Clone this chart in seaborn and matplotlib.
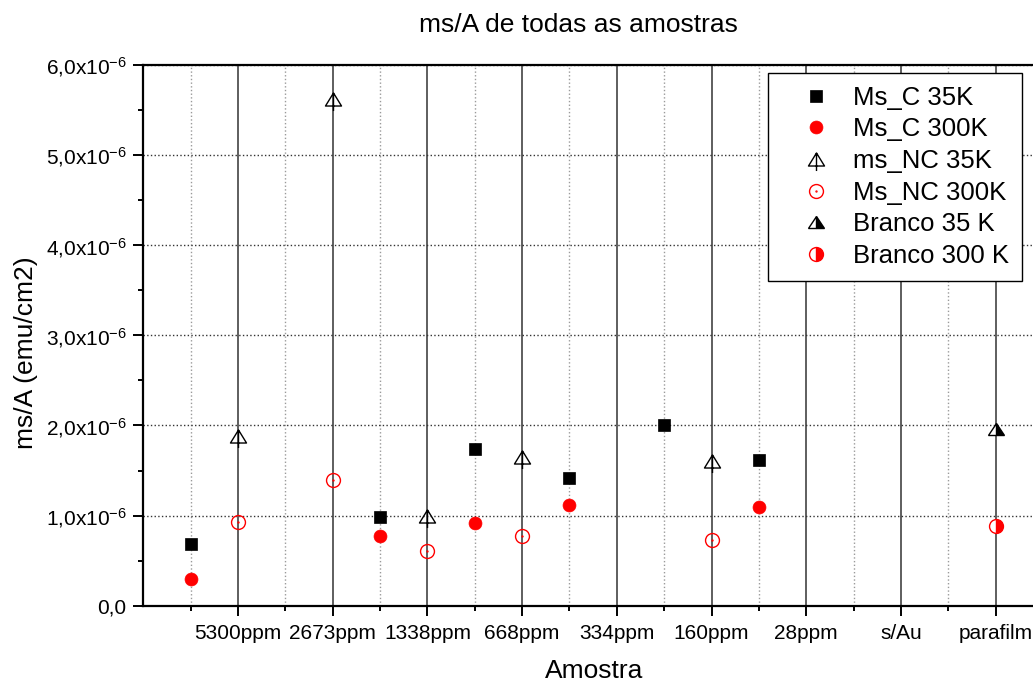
import numpy as np
import pandas as pd
import seaborn as sns
import matplotlib
matplotlib.use("Agg")
import matplotlib.pyplot as plt
from matplotlib.path import Path
from matplotlib.markers import MarkerStyle
from matplotlib.transforms import Affine2D
from matplotlib.ticker import MultipleLocator, FixedLocator

# --- data -------------------------------------------------------------
samples = ["5300ppm", "2673ppm", "1338ppm", "668ppm", "334ppm",
           "160ppm", "28ppm", "s/Au", "parafilm"]

ms_c_35_x = [0.5, 2.5, 3.5, 4.5, 5.5, 6.5]
ms_c_35_y = [0.69e-6, 0.98e-6, 1.74e-6, 1.42e-6, 2.00e-6, 1.62e-6]

ms_c_300_x = [0.5, 2.5, 3.5, 4.5, 6.5]
ms_c_300_y = [0.30e-6, 0.77e-6, 0.92e-6, 1.12e-6, 1.09e-6]

ms_nc_35_x = [1, 2, 3, 4, 6]
ms_nc_35_y = [1.88e-6, 5.62e-6, 1.00e-6, 1.65e-6, 1.61e-6]

ms_nc_300_x = [1, 2, 3, 4, 6]
ms_nc_300_y = [0.93e-6, 1.39e-6, 0.61e-6, 0.77e-6, 0.73e-6]

branco_35_x = [9]
branco_35_y = [1.96e-6]

branco_300_x = [9]
branco_300_y = [0.88e-6]

y_ticks = [0, 1e-6, 2e-6, 3e-6, 4e-6, 5e-6, 6e-6]
y_tick_labels = ["0,0"] + [rf"{v},0x10$^{{\mathregular{{-6}}}}$" for v in range(1, 7)]

# --- style ------------------------------------------------------------
sns.set_style("ticks")
plt.rcParams["font.family"] = ["Liberation Sans", "DejaVu Sans"]
plt.rcParams["mathtext.fontset"] = "custom"
plt.rcParams["mathtext.rm"] = "Liberation Sans"
plt.rcParams["mathtext.it"] = "Liberation Sans:italic"
plt.rcParams["mathtext.bf"] = "Liberation Sans:bold"
for key in ("text.color", "axes.labelcolor", "xtick.color", "ytick.color",
            "axes.edgecolor"):
    plt.rcParams[key] = "black"

W, H = 1033, 684
fig = plt.figure(figsize=(W / 100, H / 100), dpi=100)
px = 94.7  # one category unit in pixels
ax_left, ax_top, ax_bottom = 143.3, 65.0, 605.7
xmax = 9.5
ax = fig.add_axes([ax_left / W, 1 - ax_bottom / H,
                   xmax * px / W, (ax_bottom - ax_top) / H])

# custom markers
tri_stem = Path([(0, 6.5), (-8, -6.5), (8, -6.5), (0, 6.5), (0, 6.5), (0, -11.5)],
                [Path.MOVETO, Path.LINETO, Path.LINETO, Path.CLOSEPOLY,
                 Path.MOVETO, Path.LINETO])
dot_circle = Path.make_compound_path(Path.unit_circle(),
                                     Path.circle((0, 0), 0.07))
half_tri = MarkerStyle("^", fillstyle="right",
                       transform=Affine2D().scale(1.0, 0.8))
half_circ = MarkerStyle("o", fillstyle="right")


def draw(xs, ys, label, **kw):
    df = pd.DataFrame({"x": xs, "y": ys})
    sns.lineplot(data=df, x="x", y="y", ax=ax, estimator=None,
                 linestyle="", legend=False, zorder=4, label=label, **kw)
    return ax.lines[-1]


handles = []
handles.append(draw(ms_c_35_x, ms_c_35_y, "Ms_C 35K", marker="s",
                    markersize=8.8, color="black", markerfacecolor="black",
                    markeredgecolor="black", markeredgewidth=0.5))
handles.append(draw(ms_c_300_x, ms_c_300_y, "Ms_C 300K", marker="o",
                    markersize=9.3, color="red", markerfacecolor="red",
                    markeredgecolor="red", markeredgewidth=0.5))
handles.append(draw(ms_nc_35_x, ms_nc_35_y, "ms_NC 35K", marker=tri_stem,
                    markersize=16.6, color="black", markerfacecolor="none",
                    markeredgecolor="black", markeredgewidth=1.0))
handles.append(draw(ms_nc_300_x, ms_nc_300_y, "Ms_NC 300K", marker=dot_circle,
                    markersize=10, color="red", markerfacecolor="none",
                    markeredgecolor="red", markeredgewidth=1.0))
handles.append(draw(branco_35_x, branco_35_y, "Branco 35 K", marker=half_tri,
                    markersize=11.5, color="black", markerfacecolor="black",
                    markerfacecoloralt="white", markeredgecolor="black",
                    markeredgewidth=1.0))
handles.append(draw(branco_300_x, branco_300_y, "Branco 300 K", marker=half_circ,
                    markersize=10, color="red", markerfacecolor="red",
                    markerfacecoloralt="white", markeredgecolor="red",
                    markeredgewidth=1.0))

# --- axes -------------------------------------------------------------
ax.set_xlim(0, xmax)
ax.set_ylim(0, 6e-6)
ax.xaxis.set_major_locator(FixedLocator(range(1, len(samples) + 1)))
ax.set_xticklabels(samples)
ax.xaxis.set_minor_locator(FixedLocator(np.arange(0.5, xmax + 0.01, 1.0)))
ax.set_yticks(y_ticks)
ax.set_yticklabels(y_tick_labels)
ax.yaxis.set_minor_locator(MultipleLocator(0.5e-6))

ax.tick_params(axis="both", which="major", direction="out", length=7,
               width=1.4, labelsize=15, color="black", labelcolor="black")
ax.tick_params(axis="both", which="minor", direction="out", length=3.6,
               width=1.4, color="black")
ax.tick_params(axis="x", which="major", pad=6.5)
ax.tick_params(axis="y", which="major", pad=5)

for side in ("left", "bottom", "top", "right"):
    ax.spines[side].set_visible(True)
    ax.spines[side].set_linewidth(1.6)
    ax.spines[side].set_color("black")

# grid: solid at sample positions, dotted between and at y majors
ax.set_axisbelow(True)
ax.grid(False)
ax.xaxis.grid(True, which="major", color="#333333", linestyle="-", linewidth=1.1)
ax.xaxis.grid(True, which="minor", color="#9a9a9a", linestyle=":", linewidth=1.0)
ax.yaxis.grid(True, which="major", color="#333333", linestyle=":", linewidth=1.0)

ax.set_xlabel("")
ax.set_ylabel("")

fig.text(578 / W, 1 - 25 / H, "ms/A de todas as amostras", fontsize=19,
         ha="center", va="center")
fig.text(594 / W, 1 - 678 / H, "Amostra", fontsize=19,
         ha="center", va="baseline")
fig.text(26 / W, 1 - 353 / H, "ms/A (emu/cm2)", fontsize=19,
         ha="center", va="center", rotation=90)

leg = ax.legend(handles=handles,
                labels=[h.get_label() for h in handles],
                loc="upper right", bbox_to_anchor=(1022 / W, 1 - 72.7 / H),
                bbox_transform=fig.transFigure, fontsize=18.5, frameon=True,
                fancybox=False, framealpha=1, edgecolor="black",
                borderpad=0.5, handlelength=2.74, handletextpad=0.08,
                labelspacing=0.30, borderaxespad=0, numpoints=1)
leg.get_frame().set_linewidth(1.0)
leg.set_zorder(10)

fig.savefig("out.png", dpi=100)
